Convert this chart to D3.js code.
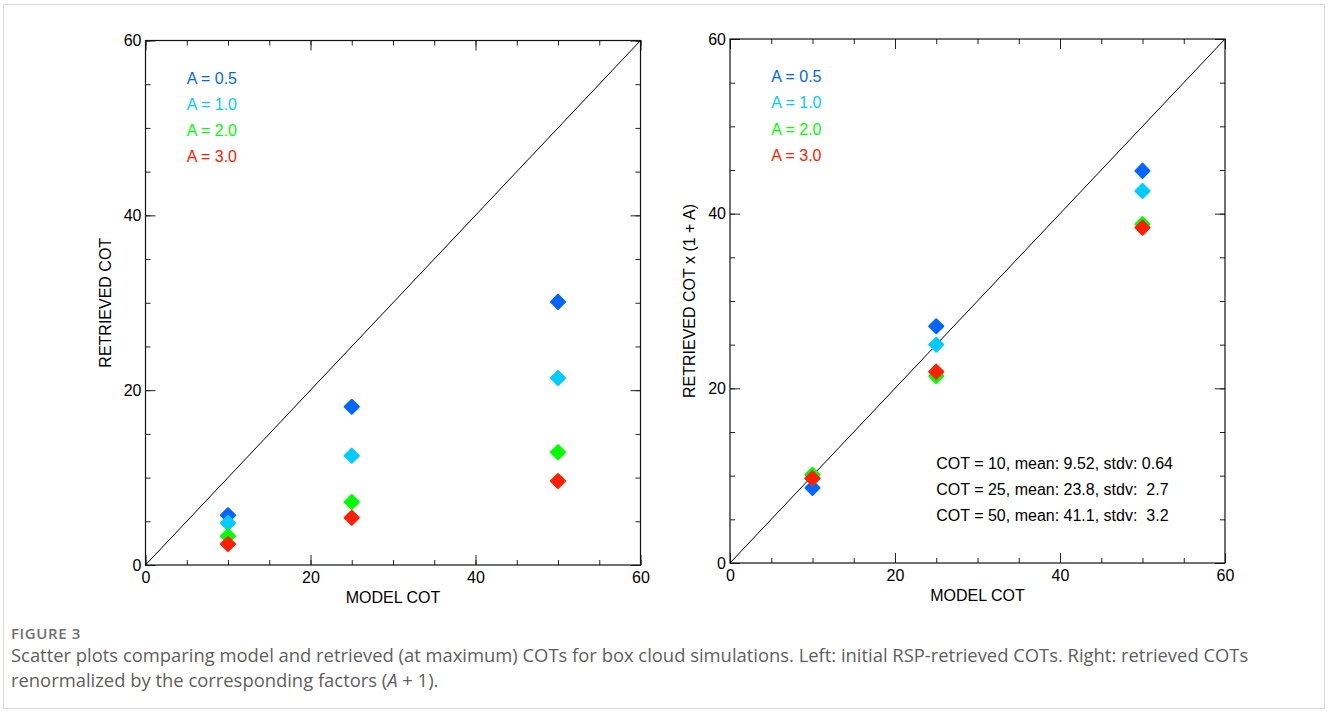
<!DOCTYPE html>
<html>
<head>
<meta charset="utf-8">
<script src="https://cdn.jsdelivr.net/npm/d3@7"></script>
<style>
  body { margin: 0; background: #fff; }
  svg text { white-space: pre; }
</style>
</head>
<body>
<script>
// Sizes
const width = 1328;
const height = 713;
const chartFont = "'Liberation Sans', Arial, sans-serif";
const captionFont = "'Open Sans', 'Noto Sans', sans-serif";

// Data
const modelCot = [10, 25, 50];
const seriesNames = ["A = 0.5", "A = 1.0", "A = 2.0", "A = 3.0"];
const seriesColors = ["#0066ff", "#00ccff", "#00ff00", "#ff2000"];
// retrieved COT (left panel), one array per series, in modelCot order
const retrieved = [
  [5.7, 18.1, 30.1],
  [4.8, 12.5, 21.4],
  [3.3, 7.2, 12.9],
  [2.4, 5.4, 9.6]
];
// retrieved COT x (1 + A) (right panel)
const renormalized = [
  [8.6, 27.1, 44.9],
  [9.7, 25.0, 42.6],
  [10.1, 21.4, 38.8],
  [9.7, 21.9, 38.4]
];
const statsLines = [
  "COT = 10, mean: 9.52, stdv: 0.64",
  "COT = 25, mean: 23.8, stdv:  2.7",
  "COT = 50, mean: 41.1, stdv:  3.2"
];
const majorTicks = [0, 20, 40, 60];
const minorTicks = d3.range(0, 61, 5);

const svg = d3.select('body')
  .append('svg')
  .attr('width', width)
  .attr('height', height);

// cadre de la figure
svg.append('rect')
  .attr('x', 3.5).attr('y', 4.5)
  .attr('width', width - 7).attr('height', height - 9)
  .attr('fill', 'none')
  .attr('stroke', '#d8d8d8');

function drawPanel(box, values, yTitle, withStats) {
  const x = d3.scaleLinear().domain([0, 60]).range([box.left, box.right]);
  const y = d3.scaleLinear().domain([0, 60]).range([box.bottom, box.top]);
  const g = svg.append('g').style('font-family', chartFont);

  // axes : graduations majeures / mineures, vers l'intérieur
  const axes = [
    { gen: d3.axisBottom(x), t: `translate(0,${box.bottom})`, labels: true, pad: 7 },
    { gen: d3.axisTop(x), t: `translate(0,${box.top})`, labels: false, pad: 4 },
    { gen: d3.axisLeft(y), t: `translate(${box.left},0)`, labels: true, pad: 4 },
    { gen: d3.axisRight(y), t: `translate(${box.right},0)`, labels: false, pad: 4 }
  ];
  axes.forEach(a => {
    g.append('g')
      .attr('transform', a.t)
      .call(a.gen.tickValues(minorTicks).tickSizeInner(-5).tickSizeOuter(0).tickFormat(''))
      .call(s => s.select('.domain').remove())
      .selectAll('line').attr('stroke', '#222');
    g.append('g')
      .attr('transform', a.t)
      .call(a.gen.tickValues(majorTicks).tickSizeInner(-10).tickSizeOuter(0)
        .tickPadding(a.pad)
        .tickFormat(a.labels ? d3.format('d') : ''))
      .attr('font-size', 16)
      .attr('font-family', chartFont)
      .call(s => s.select('.domain').remove())
      .call(s => s.selectAll('line').attr('stroke', '#222'))
      .call(s => s.selectAll('text').attr('fill', '#000'));
  });

  g.append('rect')
    .attr('x', box.left).attr('y', box.top)
    .attr('width', box.right - box.left).attr('height', box.bottom - box.top)
    .attr('fill', 'none').attr('stroke', '#111').attr('stroke-width', 1.2);

  // ligne 1:1
  g.append('line')
    .attr('x1', x(0)).attr('y1', y(0))
    .attr('x2', x(60)).attr('y2', y(60))
    .attr('stroke', '#000').attr('stroke-width', 1);

  // titres
  g.append('text')
    .attr('x', (box.left + box.right) / 2).attr('y', box.bottom + 38)
    .attr('text-anchor', 'middle')
    .style('font-size', '16px')
    .text('MODEL COT');
  g.append('text')
    .attr('transform', `translate(${box.left - 35},${(box.top + box.bottom) / 2}) rotate(-90)`)
    .attr('text-anchor', 'middle')
    .style('font-size', '16px')
    .text(yTitle);

  // légende
  g.selectAll('.leg')
    .data(seriesNames)
    .enter()
    .append('text')
    .attr('x', x(5))
    .attr('y', (d, i) => y(60) + 43 + i * 26.3)
    .style('font-size', '16px')
    .attr('fill', (d, i) => seriesColors[i])
    .text(d => d);

  // points
  const diamond = d3.symbol().type(d3.symbolSquare).size(100);
  values.forEach((row, si) => {
    g.selectAll(null)
      .data(row)
      .enter()
      .append('path')
      .attr('d', diamond)
      .attr('transform', (d, i) => `translate(${x(modelCot[i])},${y(d)}) rotate(45)`)
      .attr('fill', seriesColors[si])
      .attr('stroke', seriesColors[si])
      .attr('stroke-width', 2)
      .attr('stroke-linejoin', 'round');
  });

  if (withStats) {
    g.selectAll('.stat')
      .data(statsLines)
      .enter()
      .append('text')
      .attr('x', x(25))
      .attr('y', (d, i) => y(10.8) + i * 26)
      .style('font-size', '16px')
      .text(d => d);
  }
}

drawPanel({ left: 145.5, right: 640.5, top: 40.5, bottom: 565 }, retrieved, 'RETRIEVED COT', false);
drawPanel({ left: 730, right: 1225, top: 39, bottom: 563 }, renormalized, 'RETRIEVED COT x (1 + A)', true);

// légende de la figure
const cap = svg.append('g').style('font-family', captionFont).attr('fill', '#5e5e5e');
cap.append('text')
  .attr('x', 11).attr('y', 639)
  .style('font-size', '15px')
  .style('font-weight', 600)
  .style('letter-spacing', '0.6px')
  .attr('fill', '#707070')
  .text('FIGURE 3');
cap.append('text')
  .attr('x', 11).attr('y', 661.5)
  .style('font-size', '18.4px')
  .text('Scatter plots comparing model and retrieved (at maximum) COTs for box cloud simulations. Left: initial RSP-retrieved COTs. Right: retrieved COTs');
const last = cap.append('text')
  .attr('x', 11).attr('y', 686.5)
  .style('font-size', '18.4px');
last.append('tspan').text('renormalized by the corresponding factors (');
last.append('tspan').style('font-style', 'italic').text('A');
last.append('tspan').text(' + 1).');
</script>
</body>
</html>
